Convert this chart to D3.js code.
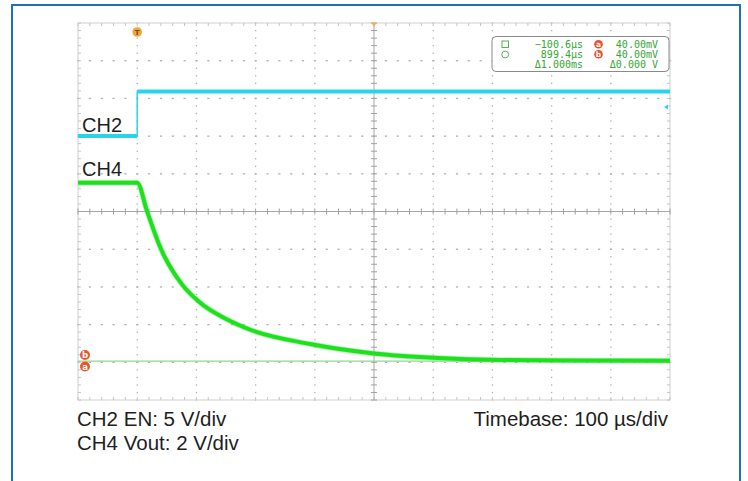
<!DOCTYPE html>
<html><head><meta charset="utf-8">
<script src="https://cdn.jsdelivr.net/npm/d3@7"></script>
<style>body{margin:0;background:#fff}svg{display:block}</style>
</head><body><svg id="c" width="748" height="481"></svg>
<script>
// ---- data ----
const timeDomain = [-100, 900];          // µs (10 div × 100 µs)
const divDomain = [-5, 5];               // vertical divisions
const ch2VoltsPerDiv = 5;
const ch4VoltsPerDiv = 2;
const ch2OffsetDiv = 2.0;
const ch4OffsetDiv = -3.99;
const ch2Time = [-100, 0, 0, 900];
const ch2Volt = [0, 0, 5.9, 5.9];
const ch4Time = [-100, -50, 0, 16.6, 40, 76, 106, 152, 190, 292, 400, 500, 612, 750, 900];
const ch4Volt = [9.5, 9.5, 9.5, 8.0, 6.0, 4.1, 3.15, 2.25, 1.72, 0.95, 0.45, 0.22, 0.1, 0.07, 0.06];
const cursorLevelV = 0.04;
const readoutTimes = ["\u2212100.6\u00b5s", "899.4\u00b5s", "\u03941.000ms"];
const readoutVolts = ["40.00mV", "40.00mV", "\u03940.000 V"];
const captionLeft = ["CH2 EN: 5 V/div", "CH4 Vout: 2 V/div"];
const captionRight = "Timebase: 100 \u00b5s/div";

// ---- layout ----
const svg = d3.select("#c");
const L = 78, R = 670, T = 23, B = 400;
const x = d3.scaleLinear().domain(timeDomain).range([L, R]);
const y = d3.scaleLinear().domain(divDomain).range([B, T]);
const yCh2 = v => y(v / ch2VoltsPerDiv + ch2OffsetDiv);
const yCh4 = v => y(v / ch4VoltsPerDiv + ch4OffsetDiv);

// outer blue frame
svg.append("rect").attr("x", 12).attr("y", 5).attr("width", 728).attr("height", 500)
  .attr("fill", "none").attr("stroke", "#1b72b8").attr("stroke-width", 2);

const g = svg.append("g");
const majorT = d3.range(timeDomain[0], timeDomain[1] + 1, 100);
const minorT = d3.range(timeDomain[0], timeDomain[1] + 0.1, 20);
const majorD = d3.range(-5, 6, 1);
const minorD = d3.range(-5, 5.01, 0.2);

// dotted grid
majorT.slice(1, -1).filter(t => t !== 400).forEach(t => {
  g.selectAll(null).data(minorD).enter().append("rect")
    .attr("x", x(t) - 0.6).attr("y", d => y(d) - 0.6).attr("width", 1.3).attr("height", 1.3)
    .attr("fill", "#b0b0b0");
});
majorD.slice(1, -1).filter(d => d !== 0).forEach(dv => {
  g.selectAll(null).data(minorT).enter().append("rect")
    .attr("x", d => x(d) - 1).attr("y", y(dv) - 0.6).attr("width", 2.2).attr("height", 1.3)
    .attr("fill", "#b0b0b0");
});

// frame
g.append("rect").attr("x", L).attr("y", T).attr("width", R - L).attr("height", B - T)
  .attr("fill", "none").attr("stroke", "#cfcfcf").attr("stroke-width", 1);
const tk = 3;
g.selectAll(null).data(minorT).enter().append("line")
  .attr("x1", d => x(d)).attr("x2", d => x(d)).attr("y1", T).attr("y2", T + tk).attr("stroke", "#c4c4c4");
g.selectAll(null).data(minorT).enter().append("line")
  .attr("x1", d => x(d)).attr("x2", d => x(d)).attr("y1", B).attr("y2", B - tk).attr("stroke", "#c4c4c4");
g.selectAll(null).data(minorD).enter().append("line")
  .attr("y1", d => y(d)).attr("y2", d => y(d)).attr("x1", L).attr("x2", L + tk).attr("stroke", "#c4c4c4");
g.selectAll(null).data(minorD).enter().append("line")
  .attr("y1", d => y(d)).attr("y2", d => y(d)).attr("x1", R).attr("x2", R - tk).attr("stroke", "#c4c4c4");

// center cross
g.append("line").attr("x1", L).attr("x2", R).attr("y1", y(0)).attr("y2", y(0)).attr("stroke", "#a8a8a8");
g.append("line").attr("x1", x(400)).attr("x2", x(400)).attr("y1", T).attr("y2", B).attr("stroke", "#a8a8a8");
g.selectAll(null).data(minorT).enter().append("line")
  .attr("x1", d => x(d)).attr("x2", d => x(d)).attr("y1", y(0) - 3).attr("y2", y(0) + 3).attr("stroke", "#a0a0a0");
g.selectAll(null).data(minorD).enter().append("line")
  .attr("y1", d => y(d)).attr("y2", d => y(d)).attr("x1", x(400) - 3).attr("x2", x(400) + 3).attr("stroke", "#a0a0a0");

// cursor line (horizontal cursors a & b on CH4)
g.append("line").attr("x1", L).attr("x2", R).attr("y1", yCh4(cursorLevelV)).attr("y2", yCh4(cursorLevelV))
  .attr("stroke", "#8fd88f").attr("stroke-width", 1.2);

// CH2 trace
const cyan = "#2ad3ea";
const ch2 = ch2Time.map((t, i) => [t, ch2Volt[i]]);
for (let i = 0; i < ch2.length - 1; i++) {
  const a = ch2[i], b = ch2[i + 1];
  const vertical = a[0] === b[0];
  g.append("line").attr("x1", x(a[0])).attr("x2", x(b[0])).attr("y1", yCh2(a[1])).attr("y2", yCh2(b[1]))
    .attr("stroke", cyan).attr("stroke-width", vertical ? 1.5 : 4);
}
// CH4 trace
const ch4 = ch4Time.map((t, i) => [t, ch4Volt[i]]);
const line4 = d3.line().x(d => x(d[0])).y(d => yCh4(d[1])).curve(d3.curveMonotoneX);
g.append("path").attr("d", line4(ch4)).attr("fill", "none").attr("stroke", "#5ef05e").attr("stroke-width", 5.5).attr("opacity", 0.5);
g.append("path").attr("d", line4(ch4)).attr("fill", "none").attr("stroke", "#1fe01f").attr("stroke-width", 4);

// trigger marker
svg.append("circle").attr("cx", x(0)).attr("cy", 32).attr("r", 4.8).attr("fill", "#f2a53a");
svg.append("text").attr("x", x(0)).attr("y", 35).attr("text-anchor", "middle").attr("font-size", 7)
  .attr("font-family", "DejaVu Sans").attr("font-weight", "bold").attr("fill", "#7a4a10").text("T");
svg.append("path").attr("d", `M${x(400) - 2.5},${T} L${x(400) + 2.5},${T} L${x(400)},${T + 4} Z`).attr("fill", "#f2b040");
// CH2 reference marker at right
svg.append("path").attr("d", `M${R - 6},107 L${R - 2},104.5 L${R - 2},109.5 Z`).attr("fill", cyan);

// cursor markers
[["b", 355], ["a", 366.5]].forEach(([lab, cy]) => {
  svg.append("circle").attr("cx", 85).attr("cy", cy).attr("r", 5).attr("fill", "#e8582c");
  svg.append("text").attr("x", 85).attr("y", cy + 3).attr("text-anchor", "middle").attr("font-size", 8.5)
    .attr("font-family", "DejaVu Sans").attr("font-weight", "bold").attr("fill", "#fff").text(lab);
});

// channel labels
const lab = svg.append("g").attr("font-family", "Liberation Sans, Arial, sans-serif").attr("font-size", 20).attr("fill", "#1e1e1e");
lab.append("text").attr("x", 82).attr("y", 132).text("CH2");
lab.append("text").attr("x", 82).attr("y", 176).text("CH4");

// readout box
const box = svg.append("g");
box.append("rect").attr("x", 492).attr("y", 36.5).attr("width", 177).attr("height", 35).attr("rx", 4)
  .attr("fill", "#fff").attr("stroke", "#8a8a8a").attr("stroke-width", 1);
box.append("rect").attr("x", 502).attr("y", 41).attr("width", 6.5).attr("height", 6.5)
  .attr("fill", "none").attr("stroke", "#55b055").attr("stroke-width", 1);
box.append("circle").attr("cx", 505.2).attr("cy", 54.5).attr("r", 3.4)
  .attr("fill", "none").attr("stroke", "#55b055").attr("stroke-width", 1);
const rowY = [47.8, 57.8, 67.8];
const mono = "DejaVu Sans Mono, monospace";
readoutTimes.forEach((s, i) => box.append("text").attr("x", 583).attr("y", rowY[i]).attr("text-anchor", "end")
  .attr("font-family", mono).attr("font-size", 10).attr("fill", "#35a535").text(s));
readoutVolts.forEach((s, i) => box.append("text").attr("x", 658).attr("y", rowY[i]).attr("text-anchor", "end")
  .attr("font-family", mono).attr("font-size", 10).attr("fill", "#35a535").text(s));
[["a", 44.3], ["b", 54.3]].forEach(([l, cy]) => {
  box.append("circle").attr("cx", 598.5).attr("cy", cy).attr("r", 4.3).attr("fill", "#e8502a");
  box.append("text").attr("x", 598.5).attr("y", cy + 2.8).attr("text-anchor", "middle").attr("font-size", 7.5)
    .attr("font-family", "DejaVu Sans").attr("font-weight", "bold").attr("fill", "#fff").text(l);
});

// captions
const cap = svg.append("g").attr("font-family", "Liberation Sans, Arial, sans-serif").attr("font-size", 20.5).attr("fill", "#1e1e1e");
captionLeft.forEach((s, i) => cap.append("text").attr("x", 77).attr("y", 426 + i * 23.5).text(s));
cap.append("text").attr("x", 668).attr("y", 426).attr("text-anchor", "end").text(captionRight);
</script></body></html>
